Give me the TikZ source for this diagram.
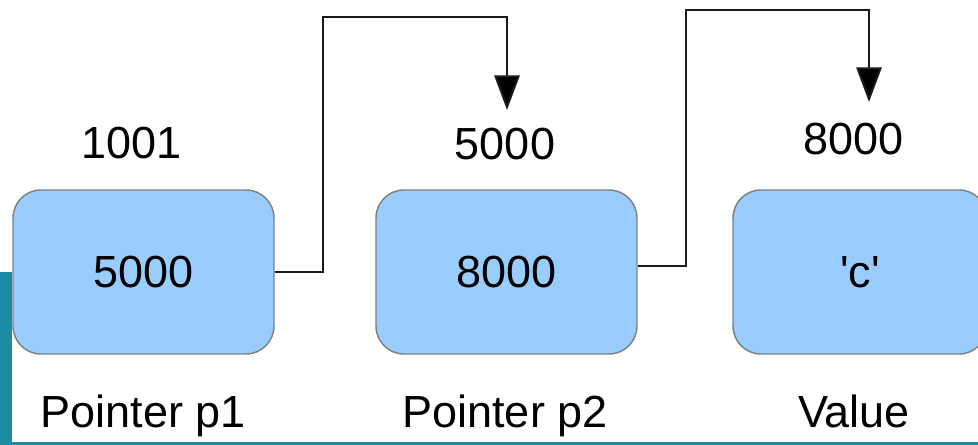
\documentclass[tikz,border=0pt]{standalone}
\usepackage{fontspec}
\setmainfont{Liberation Sans}
% same face without the TeX quote mapping, for straight quotes
\newfontfamily\plainfont{Liberation Sans}
\usetikzlibrary{arrows.meta}
\definecolor{boxfill}{HTML}{99CCFF}
\definecolor{boxedge}{HTML}{808080}
\definecolor{slideteal}{HTML}{1D8CA3}
\definecolor{linecol}{HTML}{1A1A1A}
\begin{document}
\begin{tikzpicture}[x=0.75pt,y=-0.75pt,
  cell/.style={draw=boxedge, line width=1.1pt, fill=boxfill, rounded corners=21pt,
    minimum height=123pt, inner sep=0pt, font=\fontsize{33.75}{40}\selectfont},
  lbl/.style={anchor=base, inner sep=0pt, font=\fontsize{33.75}{40}\selectfont},
  conn/.style={draw=linecol, line width=1.5pt,
    -{Triangle[length=26pt,width=19pt,fill=black]}}]
\useasboundingbox (0,0) rectangle (978,445);
\clip (0,0) rectangle (978,445);
% slide decoration at the left and bottom edges
\fill[slideteal] (0,272) rectangle (12,445);
\fill[slideteal] (0,442) rectangle (978,445);

% memory cells
\node[cell, minimum width=195.75pt] (b1) at (143.5,272) {5000};
\node[cell, minimum width=195.75pt] (b2) at (506.5,272) {8000};
\node[cell, minimum width=190.5pt] (b3) at (860,272) {\plainfont\char"27 c\char"27};

% addresses above the cells
\node[lbl] (t1) at (131.5,159) {1001};
\node[lbl] (t2) at (505,160) {5000};
\node[lbl] (t3) at (853.5,155) {8000};

% names below the cells
\node[lbl] (n1) at (143.5,427) {Pointer p1};
\node[lbl] (n2) at (505,427) {Pointer p2};
\node[lbl] (n3) at (854,427) {Value};

% pointer links
\coordinate (top1) at (507,17);
\coordinate (tip1) at (507,110);
\coordinate (top2) at (869,10);
\coordinate (tip2) at (869,102);
\draw[conn] (b1.east) -- ++(48,0) |- (top1) -- (tip1);
\draw[conn] ([yshift=4.5pt]b2.east) -- ++(48,0) |- (top2) -- (tip2);
\end{tikzpicture}
\end{document}
